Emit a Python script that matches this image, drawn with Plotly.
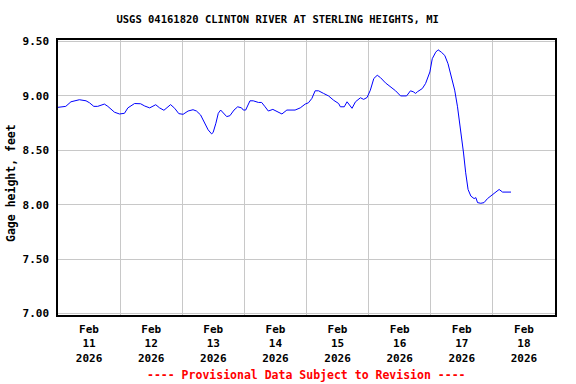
import plotly.graph_objects as go

times = [
    "2026-02-11 00:00", "2026-02-11 03:00", "2026-02-11 05:00", "2026-02-11 08:15", "2026-02-11 10:50",
    "2026-02-11 12:10", "2026-02-11 13:50", "2026-02-11 15:20", "2026-02-11 17:55", "2026-02-11 19:15",
    "2026-02-11 21:50", "2026-02-11 23:45", "2026-02-12 01:40", "2026-02-12 03:00", "2026-02-12 05:35",
    "2026-02-12 07:55", "2026-02-12 09:30", "2026-02-12 11:25", "2026-02-12 13:45", "2026-02-12 15:15",
    "2026-02-12 16:55", "2026-02-12 19:30", "2026-02-12 21:05", "2026-02-12 22:40", "2026-02-13 00:20",
    "2026-02-13 02:15", "2026-02-13 04:10", "2026-02-13 05:30", "2026-02-13 07:05", "2026-02-13 08:45",
    "2026-02-13 10:00", "2026-02-13 11:20", "2026-02-13 11:55", "2026-02-13 13:00", "2026-02-13 13:55",
    "2026-02-13 14:50", "2026-02-13 15:50", "2026-02-13 17:10", "2026-02-13 18:25", "2026-02-13 20:00",
    "2026-02-13 21:25", "2026-02-13 22:55", "2026-02-13 23:35", "2026-02-14 00:30", "2026-02-14 02:10",
    "2026-02-14 03:25", "2026-02-14 05:25", "2026-02-14 06:40", "2026-02-14 08:00", "2026-02-14 09:15",
    "2026-02-14 11:00", "2026-02-14 12:30", "2026-02-14 14:30", "2026-02-14 16:25", "2026-02-14 19:35",
    "2026-02-14 21:35", "2026-02-14 23:30", "2026-02-15 00:45", "2026-02-15 02:05", "2026-02-15 03:20",
    "2026-02-15 04:40", "2026-02-15 06:35", "2026-02-15 08:30", "2026-02-15 10:30", "2026-02-15 12:25",
    "2026-02-15 13:05", "2026-02-15 14:35", "2026-02-15 15:40", "2026-02-15 16:40", "2026-02-15 17:35",
    "2026-02-15 18:55", "2026-02-15 20:50", "2026-02-15 22:05", "2026-02-15 23:25", "2026-02-16 00:40",
    "2026-02-16 02:00", "2026-02-16 03:20", "2026-02-16 04:35", "2026-02-16 06:30", "2026-02-16 08:30",
    "2026-02-16 10:25", "2026-02-16 12:20", "2026-02-16 14:40", "2026-02-16 16:10", "2026-02-16 17:15",
    "2026-02-16 18:10", "2026-02-16 18:50", "2026-02-16 20:45", "2026-02-16 22:00", "2026-02-16 23:40",
    "2026-02-17 00:35", "2026-02-17 01:55", "2026-02-17 02:50", "2026-02-17 04:05", "2026-02-17 05:25",
    "2026-02-17 06:40", "2026-02-17 08:00", "2026-02-17 09:15", "2026-02-17 10:20", "2026-02-17 11:35",
    "2026-02-17 12:40", "2026-02-17 13:30", "2026-02-17 14:25", "2026-02-17 15:30", "2026-02-17 16:45",
    "2026-02-17 17:25", "2026-02-17 18:05", "2026-02-17 19:20", "2026-02-17 20:35", "2026-02-17 21:55",
    "2026-02-17 23:10", "2026-02-18 00:45", "2026-02-18 02:25", "2026-02-18 03:45", "2026-02-18 05:25",
    "2026-02-18 07:00",
]

gage_height = [
    8.895, 8.904, 8.946, 8.965, 8.955,
    8.937, 8.904, 8.904, 8.925, 8.904,
    8.850, 8.834, 8.840, 8.890, 8.930,
    8.928, 8.907, 8.890, 8.919, 8.890,
    8.868, 8.920, 8.886, 8.837, 8.831,
    8.861, 8.873, 8.861, 8.825, 8.749,
    8.688, 8.651, 8.663, 8.749, 8.840,
    8.870, 8.840, 8.810, 8.818, 8.870,
    8.900, 8.890, 8.870, 8.870, 8.955,
    8.955, 8.940, 8.940, 8.900, 8.861,
    8.876, 8.855, 8.834, 8.870, 8.870,
    8.890, 8.925, 8.937, 8.977, 9.047,
    9.047, 9.023, 9.000, 8.960, 8.930,
    8.900, 8.900, 8.946, 8.916, 8.886,
    8.946, 8.983, 8.968, 8.986, 9.053,
    9.160, 9.190, 9.168, 9.120, 9.083,
    9.047, 9.000, 9.000, 9.047, 9.038,
    9.023, 9.038, 9.068, 9.114, 9.220,
    9.342, 9.402, 9.424, 9.402, 9.372,
    9.296, 9.174, 9.053, 8.900, 8.688,
    8.475, 8.293, 8.140, 8.079, 8.056,
    8.065, 8.019, 8.013, 8.019, 8.056,
    8.079, 8.104, 8.140, 8.116, 8.116,
    8.116,
]

day_labels = ["11", "12", "13", "14", "15", "16", "17", "18"]
label_times = ["2026-02-%s 12:00" % d for d in day_labels]
label_text = ["Feb<br>%s<br>2026" % d for d in day_labels]
grid_times = ["2026-02-%s 00:00" % d for d in ["12", "13", "14", "15", "16", "17", "18"]]
y_ticks = [7.0, 7.5, 8.0, 8.5, 9.0, 9.5]

FONT = "DejaVu Sans Mono"

fig = go.Figure()
fig.add_trace(go.Scatter(
    x=times, y=gage_height, mode="lines",
    line=dict(color="#0000ff", width=1),
    showlegend=False,
))

fig.update_layout(
    width=576, height=384,
    margin=dict(l=58, r=21, t=40, b=69, autoexpand=False),
    paper_bgcolor="white", plot_bgcolor="white",
    title=dict(
        text="USGS 04161820 CLINTON RIVER AT STERLING HEIGHTS, MI",
        x=0.482, xref="container", xanchor="center",
        y=0.949, yref="container", yanchor="middle",
        font=dict(family=FONT, size=10.5, color="black", weight="bold"),
    ),
    xaxis=dict(
        type="date", automargin=False,
        range=["2026-02-11 00:00", "2026-02-19 00:00"],
        tickmode="array", tickvals=label_times, ticktext=label_text,
        showgrid=False, ticks="outside", ticklen=3, tickcolor="rgba(0,0,0,0)",
        tickfont=dict(family=FONT, size=11, color="black", weight="bold"),
        showline=True, linecolor="black", linewidth=1.5, mirror=True,
        minor=dict(tickvals=grid_times, showgrid=True, gridcolor="#c8c8c8", gridwidth=1, ticks=""),
        zeroline=False,
    ),
    yaxis=dict(
        automargin=False,
        range=[6.986, 9.514],
        tickmode="array", tickvals=y_ticks, tickformat=".2f",
        showgrid=True, gridcolor="#c8c8c8", gridwidth=1,
        ticks="outside", ticklen=5, tickcolor="rgba(0,0,0,0)",
        tickfont=dict(family=FONT, size=11, color="black", weight="bold"),
        showline=True, linecolor="black", linewidth=1.5, mirror=True,
        zeroline=False,
    ),
    annotations=[
        dict(
            text="---- Provisional Data Subject to Revision ----",
            xref="paper", yref="paper", x=0.5, y=-0.218,
            xanchor="center", yanchor="middle", showarrow=False,
            font=dict(family=FONT, size=11.5, color="red", weight="bold"),
        ),
        dict(
            text="Gage height, feet",
            xref="paper", yref="paper", x=-0.0946, y=0.48,
            xanchor="center", yanchor="middle", showarrow=False, textangle=-90,
            font=dict(family=FONT, size=11.5, color="black", weight="bold"),
        ),
    ],
)

fig.write_html(
    "out.html",
    config={"displayModeBar": False},
    post_script="document.body.style.margin='0';document.body.style.overflow='hidden';",
)
